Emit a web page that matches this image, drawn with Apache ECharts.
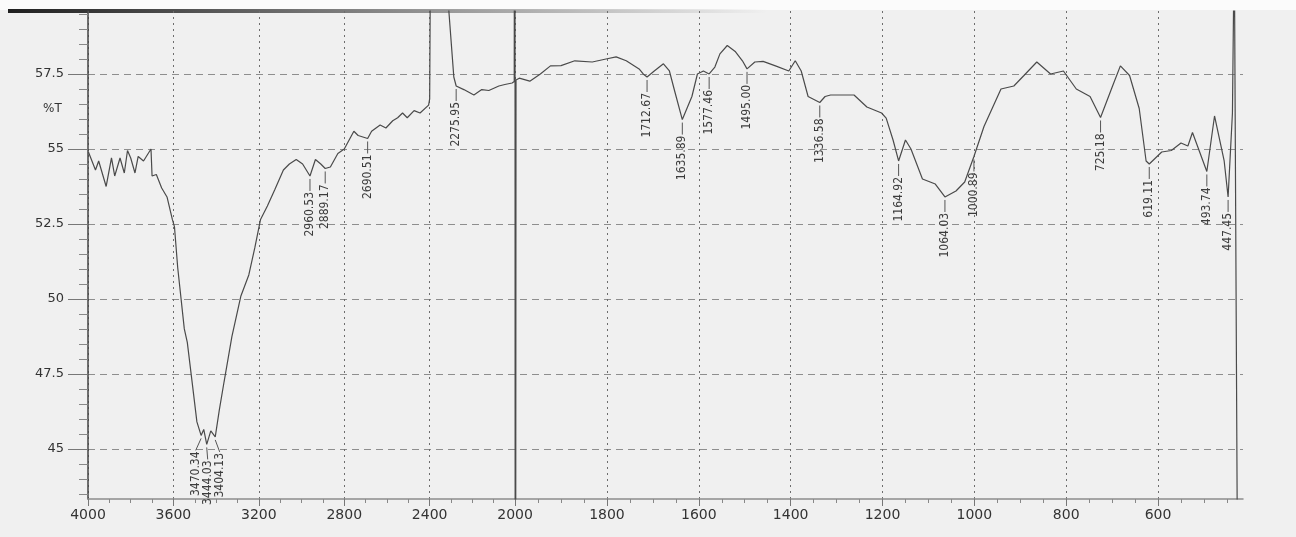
<!DOCTYPE html>
<html>
<head>
<meta charset="utf-8">
<title>FTIR spectrum</title>
<script src="https://cdn.jsdelivr.net/npm/echarts@6.0.0/dist/echarts.min.js"></script>
<style>
  html, body { margin: 0; padding: 0; background: #f0f0f0; }
  #chart { width: 1296px; height: 537px; }
</style>
</head>
<body>
<div id="chart"></div>
<script>
// spectrum, cm-1 and %T
var wavenumber = [
  3998, 3990, 3965, 3950, 3915, 3890, 3875, 3850, 3830, 3815, 3800, 3780, 3765, 3740, 3705, 3700,
  3680, 3655, 3630, 3605, 3595, 3580, 3549, 3535, 3512, 3490, 3470.34, 3458, 3444.03, 3425, 3404.13,
  3385, 3363, 3326, 3284, 3247, 3219, 3192, 3160, 3125, 3085, 3057, 3025, 2995, 2960.53, 2935, 2910,
  2889.17, 2865, 2830, 2800, 2755, 2735, 2690.51, 2672, 2632, 2605, 2573, 2550, 2527, 2505, 2473,
  2445, 2405, 2400, 2396, 2325, 2287, 2275.95, 2240, 2193, 2156, 2123, 2076, 2048, 2014, 2004,
  2001, 1999.5, 1998, 1991, 1968, 1945, 1923, 1900, 1870, 1832, 1802, 1780, 1758, 1730, 1721,
  1712.67, 1697, 1677, 1664, 1652, 1635.89, 1615, 1603, 1590, 1577.46, 1565, 1554, 1538, 1520,
  1505, 1495, 1478, 1460, 1433, 1404, 1390, 1377, 1362, 1336.58, 1325, 1313, 1262, 1234, 1202,
  1192, 1177, 1164.92, 1150, 1138, 1113, 1085, 1064.03, 1040, 1021, 1000.89, 979, 942, 914, 892,
  864, 834, 806, 778, 748, 725.18, 699, 682, 662, 641, 626, 619.11, 592, 571, 550, 535, 525,
  493.74, 477, 456, 447.45, 438, 434, 426
];
var transmittance = [
  54.9, 54.85, 54.3, 54.6, 53.75, 54.7, 54.1, 54.7, 54.2, 54.95, 54.7, 54.2, 54.75, 54.6, 55.0, 54.1,
  54.15, 53.7, 53.4, 52.65, 52.4, 51.05, 49.0, 48.55, 47.2, 45.9, 45.45, 45.65, 45.15, 45.6, 45.4,
  46.3, 47.23, 48.75, 50.1, 50.8, 51.7, 52.65, 53.1, 53.65, 54.3, 54.5, 54.65, 54.5, 54.1, 54.65, 54.5,
  54.35, 54.4, 54.85, 55.0, 55.59, 55.45, 55.35, 55.59, 55.8, 55.7, 55.94, 56.04, 56.2, 56.04, 56.28,
  56.2, 56.46, 56.67, 62, 61, 57.4, 57.1, 56.98, 56.8, 56.98, 56.95, 57.1, 57.15, 57.2, 57.25,
  80, 20, 57.3, 57.36, 57.26, 57.5, 57.77, 57.78, 57.94, 57.9, 58.0, 58.07, 57.94, 57.67, 57.5,
  57.4, 57.6, 57.84, 57.6, 56.9, 55.98, 56.75, 57.5, 57.6, 57.5, 57.73, 58.17, 58.45, 58.24,
  57.94, 57.67, 57.9, 57.92, 57.77, 57.6, 57.94, 57.6, 56.75, 56.55, 56.75, 56.8, 56.8, 56.4, 56.2,
  56.03, 55.3, 54.6, 55.3, 55.0, 54.0, 53.83, 53.4, 53.6, 53.9, 54.75, 55.75, 57.0, 57.1, 57.45,
  57.9, 57.5, 57.6, 57.0, 56.75, 56.05, 57.1, 57.77, 57.45, 56.35, 54.6, 54.5, 54.9, 54.95, 55.2, 55.1, 55.55,
  54.25, 56.1, 54.6, 53.4, 56.2, 62, 38
];
var peakWavenumber = [
  3470.34, 3444.03, 3404.13, 2960.53, 2889.17, 2690.51, 2275.95, 1712.67, 1635.89, 1577.46,
  1495.00, 1336.58, 1164.92, 1064.03, 1000.89, 725.18, 619.11, 493.74, 447.45
];
var peakTransmittance = [
  45.45, 45.15, 45.4, 54.1, 54.35, 55.35, 57.1, 57.4, 55.98, 57.5,
  57.67, 56.55, 54.6, 53.4, 54.75, 56.05, 54.5, 54.25, 53.4
];
var xTickLabels = [4000, 3600, 3200, 2800, 2400, 2000, 1800, 1600, 1400, 1200, 1000, 800, 600];
var yTickLabels = [45, 47.5, 50, 52.5, 55, 57.5];

// the recorder compresses the scale above 2000 cm-1 (400 per division, 200 below)
function toAxis(w) {
  return w >= 2000 ? (4000 - w) / 400 * 0.93 : 4.65 + (2000 - w) / 200;
}
function fromAxis(u) {
  return u <= 4.65 ? 4000 - u / 0.93 * 400 : 2000 - (u - 4.65) * 200;
}

var xMinor = [];
for (var w = 3900; w > 2000; w -= 100) if (w % 400) xMinor.push(toAxis(w));
for (var w2 = 1950; w2 >= 450; w2 -= 50) if (w2 % 200) xMinor.push(toAxis(w2));
var yMinor = [];
for (var v = 43.5; v <= 59.5; v += 0.5) if (Math.abs(v / 2.5 - Math.round(v / 2.5)) > 0.01) yMinor.push(v);

var font = 'DejaVu Sans';
var chart = echarts.init(document.getElementById('chart'));

var option = {
  animation: false,
  backgroundColor: '#f0f0f0',
  grid: { left: 88, right: 53, top: 11, bottom: 38 },
  xAxis: [{
    type: 'value',
    min: 0,
    max: toAxis(415),
    axisLine: { show: true, onZero: false, lineStyle: { color: '#8c8c8c', width: 1.5 } },
    axisTick: { show: true, length: 7, customValues: xTickLabels.map(toAxis), lineStyle: { color: '#777' } },
    axisLabel: {
      customValues: xTickLabels.map(toAxis),
      formatter: function (u) { return Math.round(fromAxis(u)); },
      color: '#333', fontFamily: font, fontSize: 14, margin: 9
    },
    splitLine: { show: true, lineStyle: { color: '#6d6d6d', type: [2, 4], width: 1 } }
  }, {
    type: 'value',
    position: 'bottom',
    min: 0,
    max: toAxis(415),
    axisLine: { show: false },
    axisTick: { show: true, length: 4, customValues: xMinor, lineStyle: { color: '#888' } },
    axisLabel: { show: false },
    splitLine: { show: false }
  }],
  yAxis: [{
    type: 'value',
    min: 43.33,
    max: 59.6,
    axisLine: { show: true, lineStyle: { color: '#444', width: 1.5 } },
    axisTick: { show: true, length: 20, customValues: yTickLabels, lineStyle: { color: '#777' } },
    axisLabel: {
      customValues: yTickLabels,
      color: '#333', fontFamily: font, fontSize: 13, margin: 24
    },
    splitLine: { show: true, lineStyle: { color: '#8e8e8e', type: [7, 5], width: 1 } }
  }, {
    type: 'value',
    position: 'left',
    min: 43.33,
    max: 59.6,
    axisLine: { show: false },
    axisTick: { show: true, length: 9, customValues: yMinor, lineStyle: { color: '#888' } },
    axisLabel: { show: false },
    splitLine: { show: false }
  }],
  graphic: [{
    type: 'rect',
    shape: { x: 0, y: 0, width: 1296, height: 10 },
    style: { fill: '#fbfbfb' },
    silent: true
  }, {
    type: 'rect',
    shape: { x: 8, y: 9, width: 760, height: 4 },
    style: {
      fill: new echarts.graphic.LinearGradient(0, 0, 1, 0, [
        { offset: 0, color: 'rgba(20,20,20,0.95)' },
        { offset: 1, color: 'rgba(20,20,20,0)' }
      ])
    },
    silent: true
  }, {
    type: 'text',
    left: 43,
    top: 103,
    style: { text: '%T', fill: '#333', font: '12px ' + font }
  }],
  series: [{
    type: 'line',
    xAxisIndex: 0,
    yAxisIndex: 0,
    data: wavenumber.map(function (w, i) { return [toAxis(w), transmittance[i]]; }),
    showSymbol: false,
    symbol: 'none',
    clip: true,
    lineStyle: { color: '#4a4a4a', width: 1.2 },
    z: 3
  }, {
    type: 'custom',
    xAxisIndex: 0,
    yAxisIndex: 0,
    silent: true,
    z: 4,
    data: peakWavenumber.map(function (w, i) { return [toAxis(w), peakTransmittance[i]]; }),
    renderItem: function (params, api) {
      // push crowded labels apart so they stay readable
      var xs = peakWavenumber.map(function (w, i) {
        return api.coord([toAxis(w), peakTransmittance[i]])[0];
      });
      var gap = 12;
      for (var it = 0; it < 30; it++) {
        for (var k = 1; k < xs.length; k++) {
          var d = xs[k] - xs[k - 1];
          if (d < gap) {
            xs[k - 1] -= (gap - d) / 2;
            xs[k] += (gap - d) / 2;
          }
        }
      }
      var p = api.coord([api.value(0), api.value(1)]);
      var lx = xs[params.dataIndex];
      return {
        type: 'group',
        children: [{
          type: 'line',
          shape: { x1: p[0], y1: p[1] + 3, x2: lx, y2: p[1] + 15 },
          style: { stroke: '#555', lineWidth: 1 }
        }, {
          type: 'text',
          x: lx,
          y: p[1] + 16,
          rotation: Math.PI / 2,
          style: {
            text: peakWavenumber[params.dataIndex].toFixed(2),
            align: 'right',
            verticalAlign: 'middle',
            fill: '#3c3c3c',
            font: "12px 'Liberation Sans Narrow', 'DejaVu Sans Condensed', 'Liberation Sans', sans-serif"
          }
        }]
      };
    }
  }]
};

chart.setOption(option);
</script>
</body>
</html>
